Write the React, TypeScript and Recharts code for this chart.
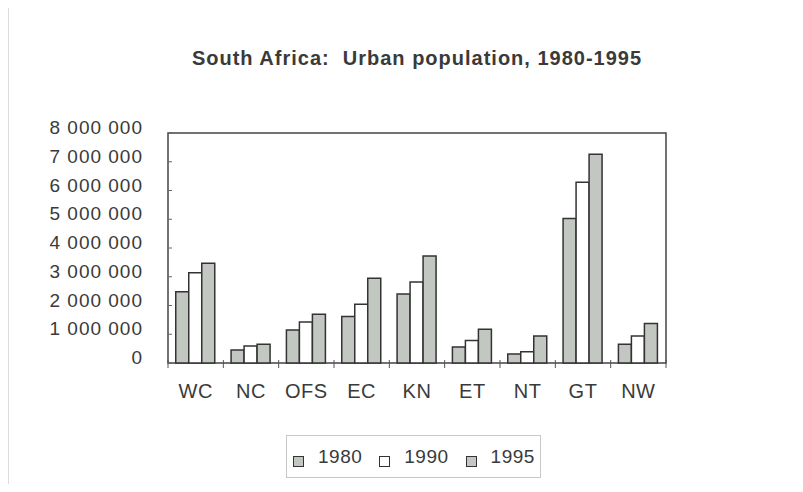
import { BarChart, Bar, XAxis, YAxis, ReferenceArea } from 'recharts';

const categories = ['WC', 'NC', 'OFS', 'EC', 'KN', 'ET', 'NT', 'GT', 'NW'];
const pop1980 = [2480000, 450000, 1150000, 1620000, 2400000, 560000, 310000, 5030000, 650000];
const pop1990 = [3140000, 590000, 1430000, 2040000, 2820000, 780000, 390000, 6290000, 940000];
const pop1995 = [3470000, 650000, 1700000, 2950000, 3720000, 1170000, 940000, 7260000, 1370000];
const yTicks = [0, 1000000, 2000000, 3000000, 4000000, 5000000, 6000000, 7000000, 8000000];

const series = [
  { key: 'y1980', name: '1980', fill: '#c3c7c2' },
  { key: 'y1990', name: '1990', fill: '#ffffff' },
  { key: 'y1995', name: '1995', fill: '#c3c7c2' },
];

const data = categories.map((c, i) => ({
  region: c,
  y1980: pop1980[i],
  y1990: pop1990[i],
  y1995: pop1995[i],
}));

const FONT = '"Liberation Sans", Arial, sans-serif';
const INK = '#3a3a3a';

const fmt = (v: number) => String(v).replace(/\B(?=(\d{3})+(?!\d))/g, ' ');

function XTick(props: any) {
  const { x, y, payload, index } = props;
  const half = payload?.offset ?? 27.7;
  return (
    <g>
      <line x1={x - half} x2={x - half} y1={y - 3} y2={y + 5} stroke="#555" />
      {index === categories.length - 1 && (
        <line x1={x + half} x2={x + half} y1={y - 3} y2={y + 5} stroke="#555" />
      )}
      <text
        x={x}
        y={y + 35}
        textAnchor="middle"
        fontFamily={FONT}
        fontSize={20}
        letterSpacing={0.5}
        fill={INK}
      >
        {payload.value}
      </text>
    </g>
  );
}

function YTick(props: any) {
  const { x, y, payload } = props;
  return (
    <g>
      <line x1={x} x2={x + 4} y1={y} y2={y} stroke="#666" />
      <text
        x={x - 25}
        y={y + 1}
        textAnchor="end"
        fontFamily={FONT}
        fontSize={19}
        letterSpacing={1}
        fill={INK}
      >
        {fmt(payload.value)}
      </text>
    </g>
  );
}

export default function App() {
  return (
    <div style={{ position: 'relative', width: 787, height: 476, borderLeft: '1px solid #dcdcdc' }}>
      <div
        style={{
          position: 'absolute',
          left: 159,
          width: 498,
          top: 38,
          lineHeight: '24px',
          textAlign: 'center',
          fontFamily: FONT,
          fontWeight: 'bold',
          fontSize: 20,
          letterSpacing: 1,
          color: INK,
          whiteSpace: 'nowrap',
        }}
      >
        South Africa:&nbsp; Urban population, 1980-1995
      </div>
      <BarChart
        width={787}
        height={476}
        data={data}
        margin={{ top: 125, right: 130, bottom: 91, left: 0 }}
        barCategoryGap="14%"
        barGap={0}
      >
        <XAxis
          dataKey="region"
          height={30}
          axisLine={false}
          tickLine={false}
          tickSize={0}
          tickMargin={0}
          interval={0}
          tick={<XTick />}
        />
        <YAxis
          width={159}
          domain={[0, 8000000]}
          ticks={yTicks}
          axisLine={false}
          tickLine={false}
          tickSize={0}
          tickMargin={0}
          interval={0}
          tick={<YTick />}
        />
        <ReferenceArea y1={0} y2={8000000} fill="none" stroke="#444" strokeWidth={1.5} />
        {series.map((s) => (
          <Bar
            key={s.key}
            dataKey={s.key}
            name={s.name}
            fill={s.fill}
            stroke="#333"
            strokeWidth={1.5}
            isAnimationActive={false}
          />
        ))}
      </BarChart>
      <div
        style={{
          position: 'absolute',
          left: 277,
          top: 427,
          width: 255,
          height: 43,
          boxSizing: 'border-box',
          border: '1px solid #c8c8c8',
          display: 'flex',
          alignItems: 'center',
          paddingLeft: 6,
          fontFamily: FONT,
          fontSize: 19,
          color: INK,
        }}
      >
        {series.map((s) => (
          <div key={s.key} style={{ display: 'flex', alignItems: 'center', marginRight: 17 }}>
            <span
              style={{
                display: 'inline-block',
                width: 9,
                height: 9,
                marginTop: 10,
                marginRight: 14,
                background: s.fill,
                border: '1.5px solid #333',
              }}
            />
            <span style={{ letterSpacing: 0.5 }}>{s.name}</span>
          </div>
        ))}
      </div>
    </div>
  );
}
